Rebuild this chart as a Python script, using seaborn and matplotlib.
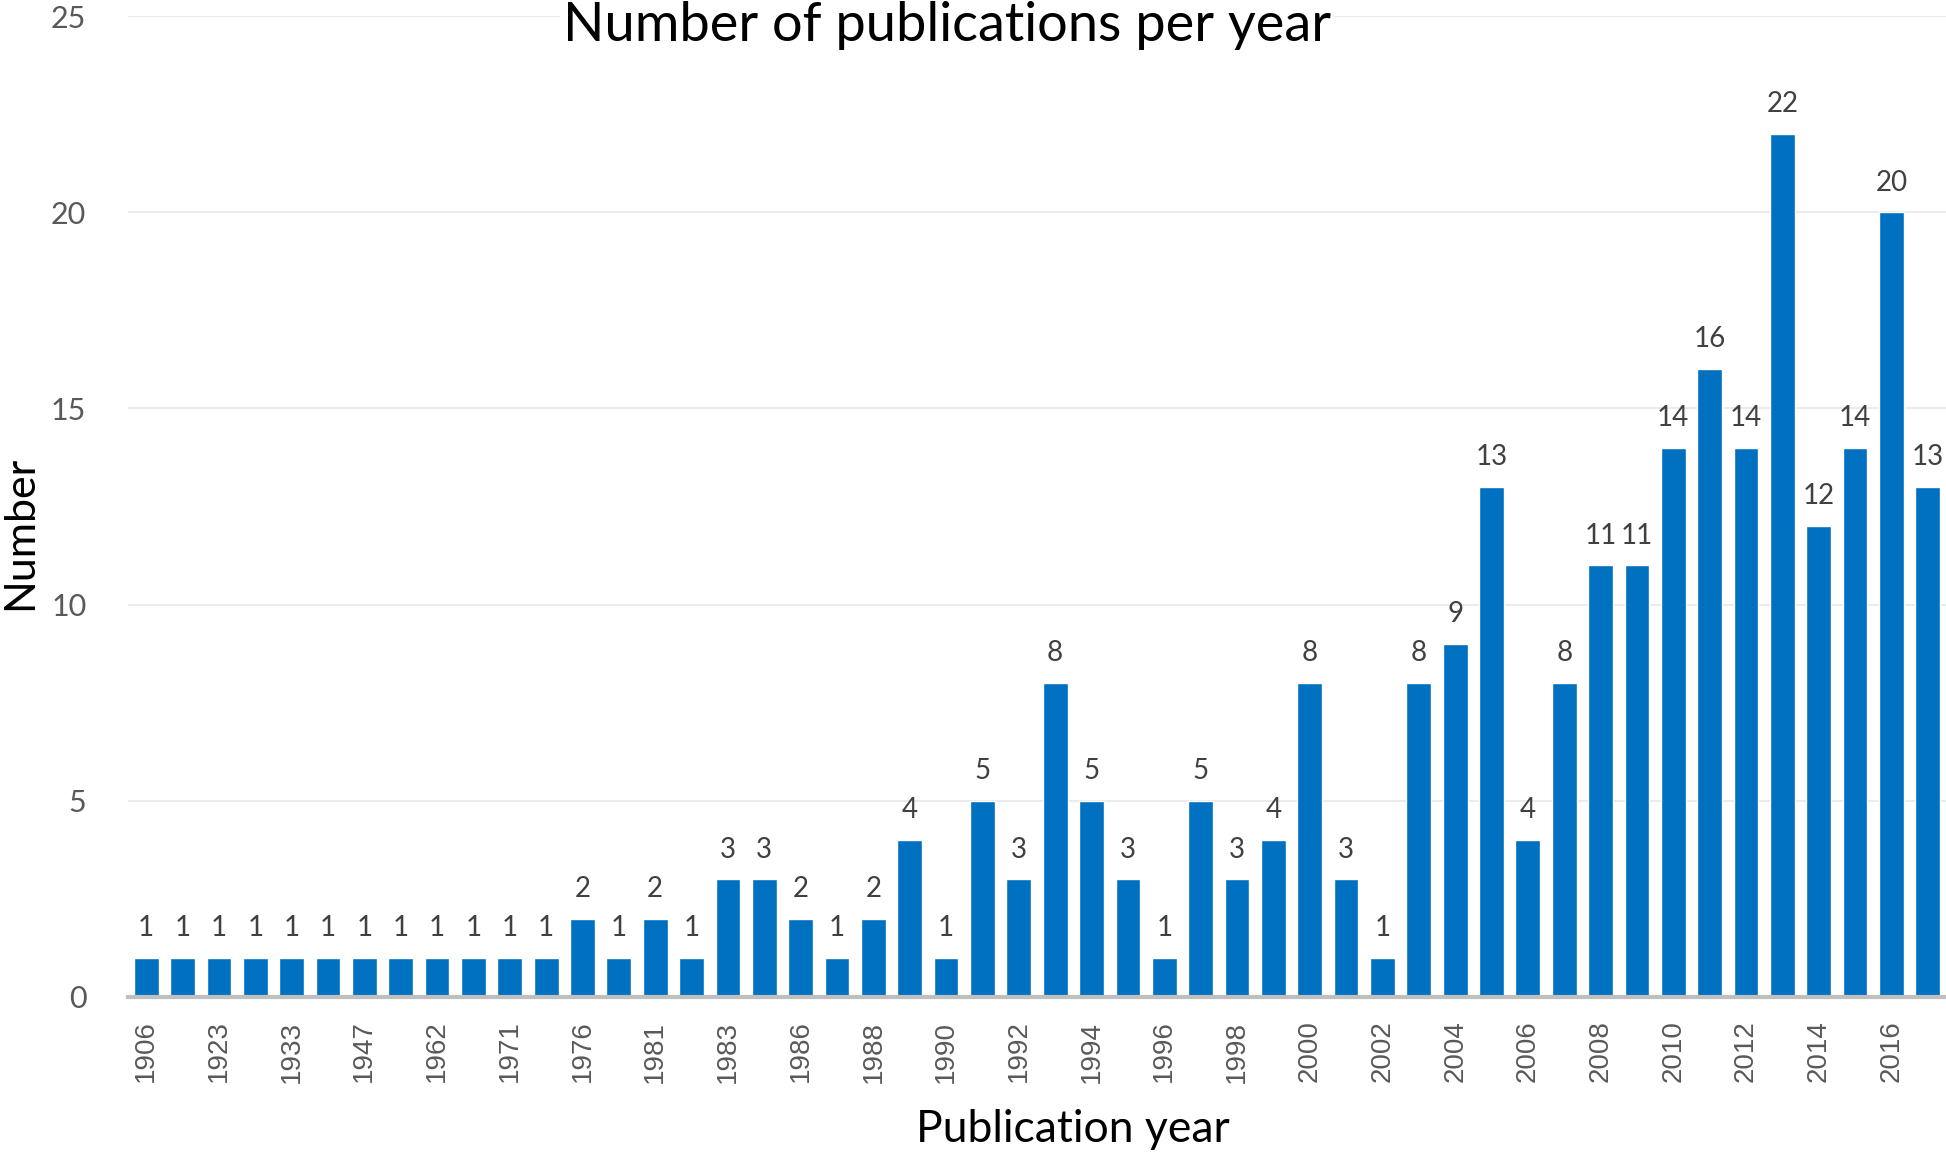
import matplotlib
matplotlib.use("Agg")
import seaborn as sns
import pandas as pd
import matplotlib.pyplot as plt

# publication years (only every other one is labelled on the axis)
years = ["1906", "1915", "1923", "1928", "1933", "1939", "1947", "1955", "1962", "1967",
         "1971", "1974", "1976", "1979", "1981", "1982", "1983", "1984", "1986", "1987",
         "1988", "1989", "1990", "1991", "1992", "1993", "1994", "1995", "1996", "1997",
         "1998", "1999", "2000", "2001", "2002", "2003", "2004", "2005", "2006", "2007",
         "2008", "2009", "2010", "2011", "2012", "2013", "2014", "2015", "2016", "2017"]
counts = [1, 1, 1, 1, 1, 1, 1, 1, 1, 1,
          1, 1, 2, 1, 2, 1, 3, 3, 2, 1,
          2, 4, 1, 5, 3, 8, 5, 3, 1, 5,
          3, 4, 8, 3, 1, 8, 9, 13, 4, 8,
          11, 11, 14, 16, 14, 22, 12, 14, 20, 13]
shown_labels = years[::2]

W, H = 1946, 1154


def main():
    sns.set_theme(style="white")
    plt.rcParams['font.family'] = ['Lato', 'DejaVu Sans']

    df = pd.DataFrame({'year': years, 'count': counts})

    fig = plt.figure(figsize=(W / 100, H / 100), dpi=100)
    ax = fig.add_axes([128 / W, 1 - 997 / H, 1 - 128 / W, (997 - 16) / H])

    sns.barplot(data=df, x='year', y='count', color='#0070C0', saturation=1,
                width=0.68, ax=ax, zorder=3)

    ax.set_xlim(-0.5, len(years) - 0.5)
    ax.set_ylim(0, 25)
    ax.set_yticks(range(0, 26, 5))
    ax.yaxis.grid(True, color='#EBEBEB', lw=1.5)
    ax.set_axisbelow(True)
    for side in ['top', 'right', 'left']:
        ax.spines[side].set_visible(False)
    ax.spines['bottom'].set_color('#BFBFBF')
    ax.spines['bottom'].set_linewidth(3)
    ax.spines['bottom'].set_zorder(4)

    ax.set_xticks(range(0, len(years), 2))
    ax.set_xticklabels(shown_labels, rotation=90, fontfamily=['Liberation Sans'],
                       fontsize=20, color='#595959')
    ax.tick_params(axis='x', length=0, pad=17)
    ax.tick_params(axis='y', length=0, pad=30, labelsize=22, labelcolor='#595959')

    ax.bar_label(ax.containers[0], fontsize=20, color='#404040', padding=12)

    ax.set_xlabel('Publication year', fontsize=32, color='black', va='center')
    ax.xaxis.set_label_coords((1073 - 128) / (W - 128), (997 - 1129) / (997 - 16))
    ax.set_ylabel('Number', fontsize=31, color='black', va='center')
    ax.yaxis.set_label_coords((20 - 128) / (W - 128), (997 - 533) / (997 - 16))

    fig.text(947 / W, 1 - 25 / H, 'Number of publications per year', ha='center',
             va='center', fontsize=39, color='black',
             bbox=dict(facecolor='white', edgecolor='none', pad=2))

    fig.savefig('out.png', dpi=100, facecolor='white')


if __name__ == '__main__':
    main()
